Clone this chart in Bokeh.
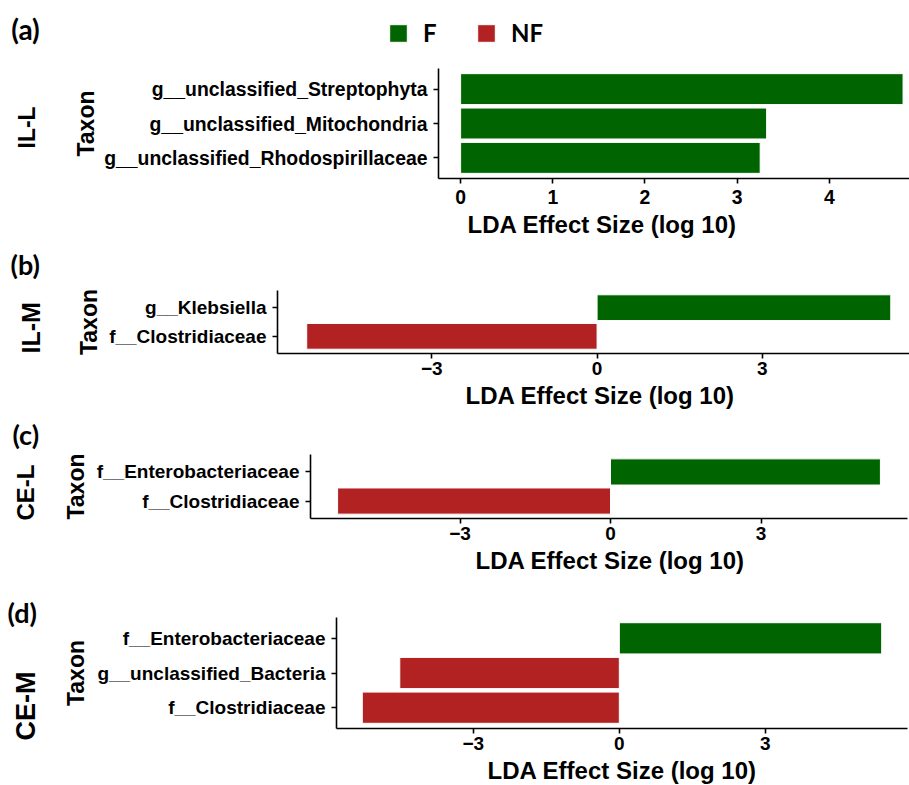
from bokeh.plotting import figure
from bokeh.models import ColumnDataSource, FixedTicker, Legend, LegendItem, Range1d, Title, Label
from bokeh.layouts import column, row
from bokeh.embed import file_html
from bokeh.resources import INLINE

# ---------------- data ----------------
a_taxa = ["g__unclassified_Streptophyta", "g__unclassified_Mitochondria",
          "g__unclassified_Rhodospirillaceae"]
a_lda = [4.80, 3.32, 3.25]
b_taxa = ["g__Klebsiella", "f__Clostridiaceae"]
b_lda = [5.33, -5.27]
c_taxa = ["f__Enterobacteriaceae", "f__Clostridiaceae"]
c_lda = [5.38, -5.44]
d_taxa = ["f__Enterobacteriaceae", "g__unclassified_Bacteria", "f__Clostridiaceae"]
d_lda = [5.39, -4.51, -5.28]

a_xticks = [0, 1, 2, 3, 4]
bcd_xticks = [-3, 0, 3]
group_names = ["F", "NF"]
group_colors = ["#006400", "#B22222"]
panel_tags = ["(a)", "(b)", "(c)", "(d)"]
panel_names = ["IL-L", "IL-M", "CE-L", "CE-M"]
x_title = "LDA Effect Size (log 10)"
y_title = "Taxon"

TICK_FONT = "Liberation Sans"
TAG_FONT = "Lato"

all_lda = [a_lda, b_lda, c_lda, d_lda]

# ---------------- top strip: panel tag (a) + legend ----------------
STRIP_H = 60
strip = figure(width=909, height=STRIP_H, x_range=Range1d(0, 1), y_range=Range1d(0, 1),
               x_axis_type=None, y_axis_type=None, output_backend="svg",
               toolbar_location=None, title=None, min_border=0)
strip.outline_line_color = None
strip.xgrid.visible = False
strip.ygrid.visible = False
key_renderers = []
for g, (gname, gcol) in enumerate(zip(group_names, group_colors)):
    vals = [v for lst in all_lda for v in lst if (v > 0) == (g == 0)]
    r = strip.hbar(y="y", left=0, right="lda", height=0.9,
                   source=ColumnDataSource(dict(y=list(range(len(vals))), lda=vals)),
                   fill_color=gcol, line_color="white", line_width=1)
    r.visible = False  # only used as legend key
    key_renderers.append(r)
legend = Legend(items=[LegendItem(label=n, renderers=[r]) for n, r in zip(group_names, key_renderers)],
                orientation="horizontal", location=(387, 13),
                glyph_width=22, glyph_height=22, label_standoff=14, spacing=32,
                padding=0, margin=0, border_line_color=None,
                background_fill_alpha=0, label_text_font=TAG_FONT,
                label_text_font_style="bold", label_text_font_size="24px",
                label_text_color="black", click_policy="none")
strip.add_layout(legend)
strip.add_layout(Label(x=25, y=STRIP_H - 28, x_units="screen", y_units="screen",
                       text=panel_tags[0], text_font=TAG_FONT, text_font_style="bold",
                       text_font_size="28px", text_align="center", text_baseline="middle",
                       text_color="black"))

# ---------------- panels ----------------
panels = [
    dict(taxa=a_taxa, lda=a_lda, xticks=a_xticks, y0=STRIP_H, h=245 - STRIP_H, ft=68, fb=178,
         fl=438, rb=0, xr=(-0.24, 4.87), tick_fs="19.4px", taxon_so=2, xtick_so=6,
         tag_so=None, spacer_so=None,
         name_gap=28, name_bottom=148, name_fs="23px", xt_left=467),
    dict(taxa=b_taxa, lda=b_lda, xticks=bcd_xticks, y0=245, h=170, ft=290, fb=353, fl=277, rb=0,
         xr=(-5.80, 5.67), tick_fs="19px", taxon_so=4, xtick_so=3,
         tag_left=10, tag_so=0, spacer_so=7,
         name_gap=26, name_bottom=353, name_fs="25px", xt_left=465),
    dict(taxa=c_taxa, lda=c_lda, xticks=bcd_xticks, y0=415, h=165, ft=454, fb=518, fl=310, rb=2,
         xr=(-5.98, 5.92), tick_fs="19px", taxon_so=5, xtick_so=3,
         tag_left=12, tag_so=0, spacer_so=1,
         name_gap=18, name_bottom=520, name_fs="24px", xt_left=475),
    dict(taxa=d_taxa, lda=d_lda, xticks=bcd_xticks, y0=580, h=205, ft=617, fb=728, fl=336, rb=2,
         xr=(-5.81, 5.92), tick_fs="19px", taxon_so=5, xtick_so=3,
         tag_left=7, tag_so=-22, spacer_so=None,
         name_gap=17, name_bottom=740, name_fs="27px", xt_left=487),
]

figs = [strip]
for k, P in enumerate(panels):
    n = len(P["taxa"])
    ys = [n - i for i in range(n)]
    top_border = P["ft"] - P["y0"]
    bottom_border = P["y0"] + P["h"] - P["fb"]
    p = figure(width=909, height=P["h"], x_range=Range1d(*P["xr"]),
               y_range=Range1d(0.4, n + 0.6), output_backend="svg",
               toolbar_location=None, title=None,
               min_border_left=P["fl"], min_border_right=P["rb"],
               min_border_top=top_border, min_border_bottom=bottom_border)
    p.outline_line_color = None
    p.xgrid.visible = False
    p.ygrid.visible = False
    p.background_fill_color = "white"
    p.border_fill_color = "white"

    for g, (gname, gcol) in enumerate(zip(group_names, group_colors)):
        sel = [i for i, v in enumerate(P["lda"]) if (v > 0) == (g == 0)]
        src = ColumnDataSource(dict(y=[ys[i] for i in sel],
                                    lda=[P["lda"][i] for i in sel],
                                    taxon=[P["taxa"][i] for i in sel]))
        p.hbar(y="y", left=0, right="lda", height=0.9, source=src,
               fill_color=gcol, line_color="white", line_width=1)

    for ax in (p.xaxis[0], p.yaxis[0]):
        ax.axis_line_width = 1.6
        ax.axis_line_color = "black"
        ax.major_tick_line_width = 1.6
        ax.major_tick_line_color = "black"
        ax.major_tick_out = 5
        ax.major_tick_in = 0
        ax.minor_tick_line_color = None
        ax.major_label_text_font = TICK_FONT
        ax.major_label_text_font_style = "bold"
        ax.major_label_text_color = "black"
        ax.major_label_text_font_size = P["tick_fs"]
        ax.axis_label_text_font = TICK_FONT
        ax.axis_label_text_font_style = "bold"
        ax.axis_label_text_color = "black"

    p.xaxis.ticker = FixedTicker(ticks=P["xticks"])
    p.xaxis.major_label_standoff = P["xtick_so"]

    p.yaxis.ticker = FixedTicker(ticks=ys)
    p.yaxis.major_label_overrides = {y: t for y, t in zip(ys, P["taxa"])}
    p.yaxis.major_label_standoff = 6
    p.yaxis.axis_label = y_title
    p.yaxis.axis_label_text_font_size = "23px"
    p.yaxis.axis_label_standoff = P["taxon_so"]

    fl, fb = P["fl"], P["fb"]

    # x-axis title
    p.add_layout(Title(text=x_title, align="left", offset=P["xt_left"] - fl,
                       text_font=TICK_FONT, text_font_style="bold",
                       text_font_size="24px", text_color="black", standoff=4), "below")

    # panel name (IL-L ...) on the far left: spacer then rotated title
    p.add_layout(Title(text=" ", text_font_size="1px", standoff=P["name_gap"]), "left")
    p.add_layout(Title(text=panel_names[k], align="left", offset=fb - P["name_bottom"],
                       standoff=0, text_font=TICK_FONT, text_font_style="bold",
                       text_font_size=P["name_fs"], text_color="black"), "left")

    # panel tag (b), (c), (d)
    if P["tag_so"] is not None:
        if P["spacer_so"] is not None:
            p.add_layout(Title(text=" ", text_font_size="1px", standoff=P["spacer_so"]), "above")
        p.add_layout(Title(text=panel_tags[k], align="left", offset=P["tag_left"] - fl,
                           standoff=P["tag_so"], text_font=TAG_FONT, text_font_style="bold",
                           text_font_size="27px", text_color="black"), "above")
    figs.append(p)

layout = column(*[row(f) for f in figs], spacing=0)
open("out.html", "w").write(file_html(layout, INLINE))
